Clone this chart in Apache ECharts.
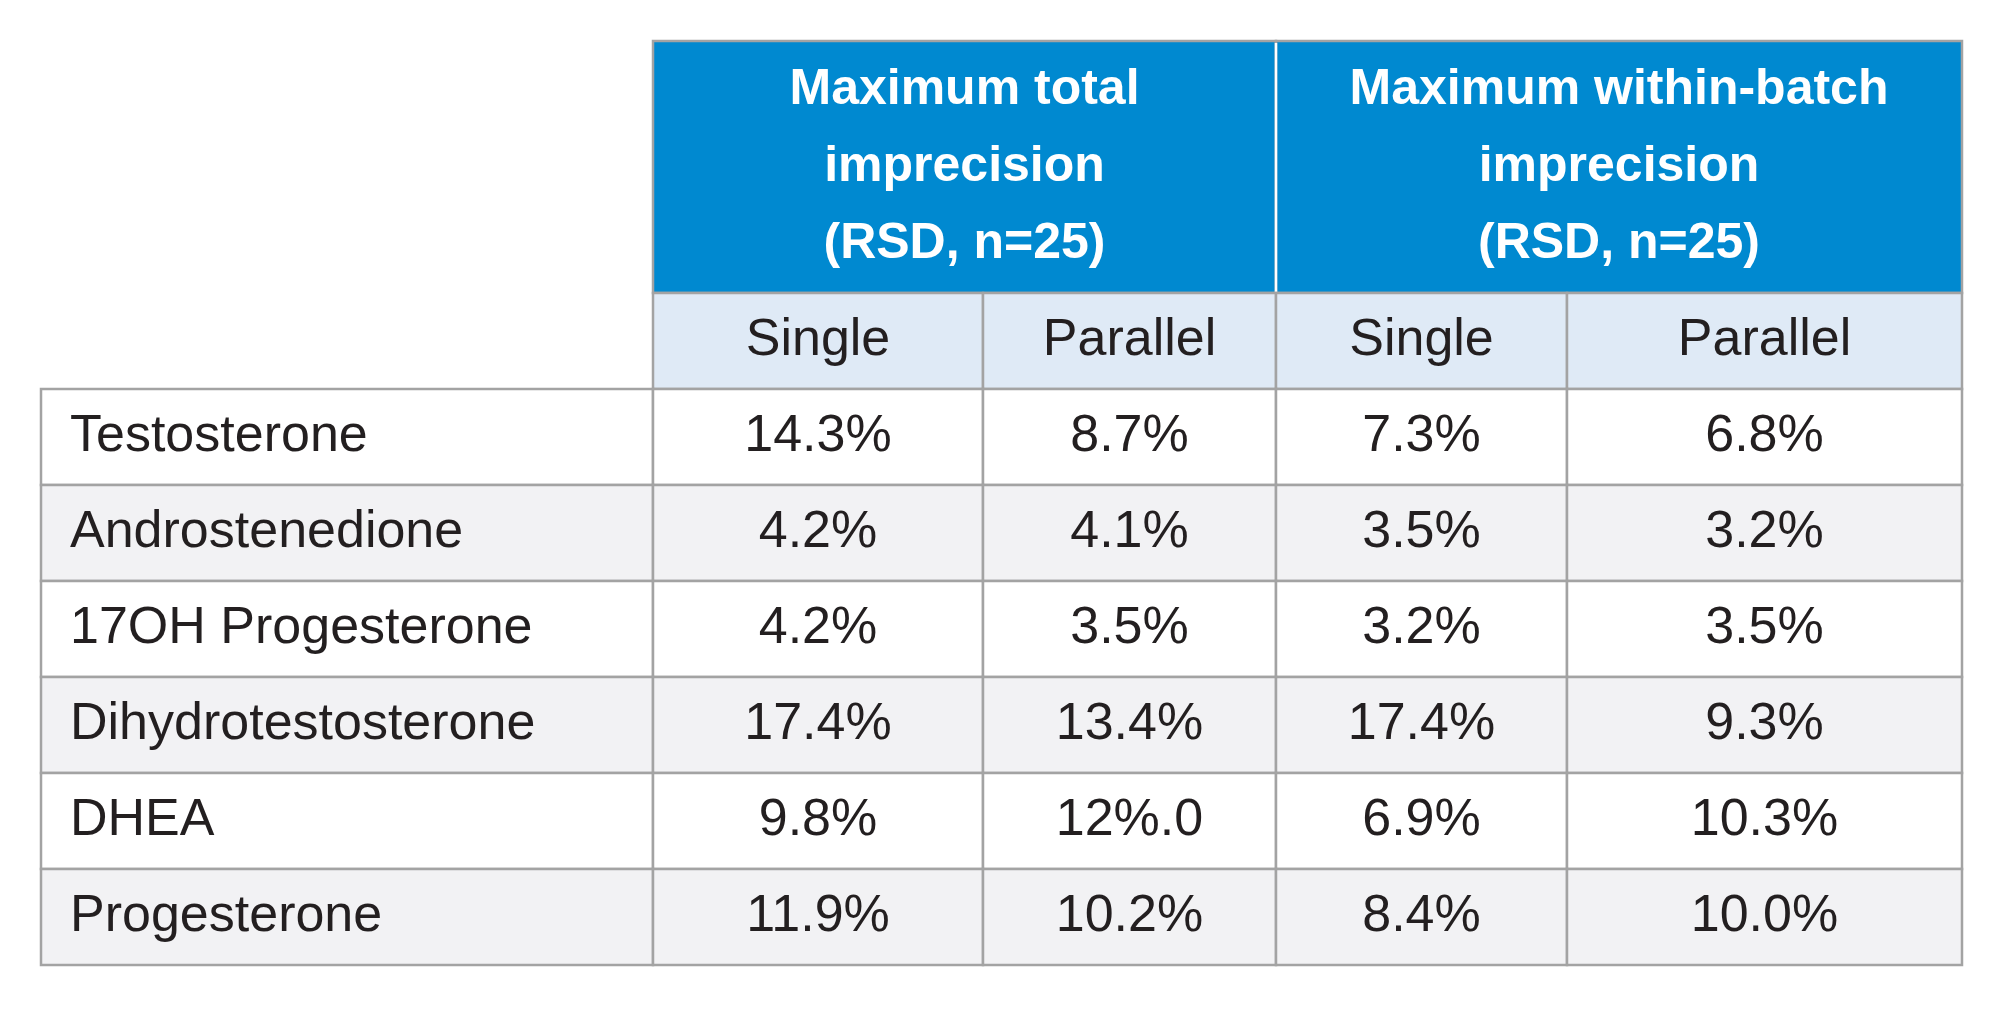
<!DOCTYPE html>
<html><head><meta charset="utf-8">
<script src="https://cdn.jsdelivr.net/npm/echarts@6/dist/echarts.min.js"></script>
<style>html,body{margin:0;padding:0;background:#fff}#c{width:2000px;height:1011px}</style>
</head><body><div id="c"></div>
<script>
const groupHeaders = ["Maximum total\nimprecision\n(RSD, n=25)", "Maximum within-batch\nimprecision\n(RSD, n=25)"];
const subHeaders = ["Single", "Parallel", "Single", "Parallel"];
const compounds = ["Testosterone", "Androstenedione", "17OH Progesterone", "Dihydrotestosterone", "DHEA", "Progesterone"];
const totalSingle = ["14.3%", "4.2%", "4.2%", "17.4%", "9.8%", "11.9%"];
const totalParallel = ["8.7%", "4.1%", "3.5%", "13.4%", "12%.0", "10.2%"];
const withinSingle = ["7.3%", "3.5%", "3.2%", "17.4%", "6.9%", "8.4%"];
const withinParallel = ["6.8%", "3.2%", "3.5%", "9.3%", "10.3%", "10.0%"];

(function () {
const colX = [41, 653, 983, 1276, 1567, 1962];
const tableTop = 41, headBottom = 293, subBottom = 389, rowH = 96;
const border = '#a3a3a3', txt = '#231f20', font = '"Liberation Sans", Arial, sans-serif';
const els = [];
function rect(x, y, w, h, fill) {
  els.push({type:'rect', shape:{x, y, width:w, height:h}, style:{fill, stroke:border, lineWidth:2.5}});
}
function text(x, y, s, opts) {
  els.push({type:'text', x, y, style:Object.assign({text:s, fill:txt, font:'52px ' + font, align:'center', verticalAlign:'middle'}, opts || {})});
}
for (let g = 0; g < 2; g++) {
  const x0 = colX[1 + g*2], x1 = colX[3 + g*2];
  els.push({type:'rect', shape:{x:x0, y:tableTop, width:x1-x0, height:headBottom-tableTop}, style:{fill:'#0089d0', stroke:border, lineWidth:2.5}});
  text((x0+x1)/2, (tableTop+headBottom)/2, groupHeaders[g], {fill:'#fff', font:'bold 50px ' + font, lineHeight:77});
}
els.push({type:'line', shape:{x1:colX[3], y1:tableTop+2, x2:colX[3], y2:headBottom}, style:{stroke:'#fff', lineWidth:2.5}});
subHeaders.forEach((s, i) => {
  rect(colX[i+1], headBottom, colX[i+2]-colX[i+1], subBottom-headBottom, '#dfeaf6');
  text((colX[i+1]+colX[i+2])/2, (headBottom+subBottom)/2, s);
});
const cols = [totalSingle, totalParallel, withinSingle, withinParallel];
compounds.forEach((c, r) => {
  const y = subBottom + r*rowH, fill = r % 2 ? '#f2f2f4' : '#ffffff';
  rect(colX[0], y, colX[1]-colX[0], rowH, fill);
  text(colX[0]+29, y+rowH/2, c, {align:'left'});
  cols.forEach((arr, i) => {
    rect(colX[i+1], y, colX[i+2]-colX[i+1], rowH, fill);
    text((colX[i+1]+colX[i+2])/2, y+rowH/2, arr[r]);
  });
});
const chart = echarts.init(document.getElementById('c'));
chart.setOption({animation:false, graphic:{elements:els}});
})();
</script></body></html>
